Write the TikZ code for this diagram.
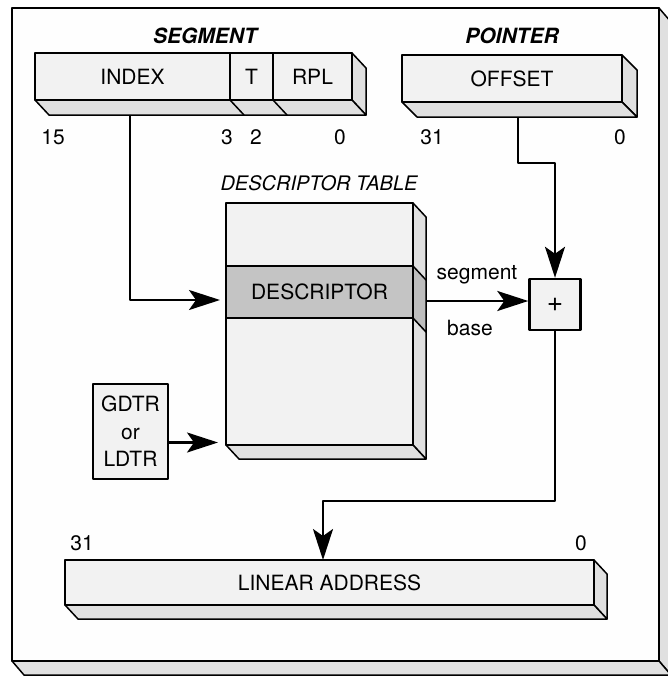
\documentclass[tikz,border=0pt]{standalone}
\usepackage{fontspec}
\setmainfont{TeX Gyre Heros}
\usetikzlibrary{calc,arrows.meta}
\definecolor{facecol}{gray}{0.95}
\definecolor{sidecol}{gray}{0.88}
\definecolor{bandcol}{gray}{0.77}
\definecolor{bandside}{gray}{0.74}
\definecolor{framecol}{gray}{0.995}
\newcommand\sidefaces[5]{%
  \filldraw[sideface] (#1) -- ++(#4,#5) -- ($(#2)+(#4,#5)$) -- (#2) -- cycle;
  \filldraw[sideface] (#3) -- ++(#4,#5) -- ($(#2)+(#4,#5)$) -- (#2) -- cycle;
}
\tikzset{
  txt/.style={font=\fontsize{21}{24}\selectfont, inner sep=0pt},
  title/.style={font=\fontsize{21}{24}\selectfont\bfseries\itshape, inner sep=0pt},
  front/.style={draw, line width=1.5pt, fill=facecol, inner sep=0pt, outer sep=0pt,
    anchor=north west, font=\fontsize{21}{24}\selectfont},
  sideface/.style={draw, line width=1.5pt, fill=sidecol, line join=round},
  edge/.style={line width=1.5pt},
  conn/.style={line width=2.3pt, -{Stealth[length=31pt,width=20pt,inset=7pt]}},
}
\begin{document}
\begin{tikzpicture}[x=1pt, y=-1pt, line join=round]
\useasboundingbox (0,0) rectangle (668,677);
\clip (0,0) rectangle (668,677);
% outer frame
\node[front, fill=framecol, minimum width=647pt, minimum height=653pt] (frame) at (12,8) {};
\sidefaces{frame.north east}{frame.south east}{frame.south west}{12}{14}

% segment selector
\node[title] (segtitle) at (205,36) {SEGMENT};
\node[front, minimum width=195pt, minimum height=47pt] (index) at (35,53) {INDEX};
\node[front, minimum width=43pt, minimum height=47pt] (tfld) at (230,53) {T};
\node[front, minimum width=79pt, minimum height=47pt] (rpl) at (273,53) {RPL};
\sidefaces{rpl.north east}{rpl.south east}{index.south west}{14}{15}
\draw[edge] (index.south east) -- ++(14,15);
\draw[edge] (tfld.south east) -- ++(14,15);
\node[txt] (b15) at (53,137) {15};
\node[txt] (b3) at (227,137) {3};
\node[txt] (b2) at (256,137) {2};
\node[txt] (b0a) at (340,137) {0};

% pointer
\node[title] (ptrtitle) at (512,36) {POINTER};
\node[front, minimum width=220pt, minimum height=47pt] (offset) at (402,55) {OFFSET};
\sidefaces{offset.north east}{offset.south east}{offset.south west}{15}{15}
\node[txt] (b31a) at (432,137) {31};
\node[txt] (b0b) at (620,137) {0};

% descriptor table
\node[txt, font=\fontsize{20}{24}\selectfont\itshape] (tbltitle) at (319,183) {DESCRIPTOR TABLE};
\node[front, minimum width=187pt, minimum height=242pt] (tbl) at (226,203) {};
\sidefaces{tbl.north east}{tbl.south east}{tbl.south west}{13}{14}
\node[front, fill=bandcol, minimum width=187pt, minimum height=52pt] (descriptor) at (226,266) {DESCRIPTOR};
\filldraw[sideface, fill=bandside] (descriptor.north east) -- ++(13,14) -- ($(descriptor.south east)+(13,14)$) -- (descriptor.south east) -- cycle;

% GDTR / LDTR
\node[front, minimum width=75pt, minimum height=95pt, align=center,
  font=\fontsize{21}{27.5}\selectfont] (gdtr) at (93,384) {GDTR\\or\\LDTR};

% adder
\node[draw, line width=2.4pt, fill=facecol, minimum size=51pt, inner sep=0pt,
  font=\fontsize{28}{30}\selectfont] (plus) at (555,304.5) {+};
\node[txt] (segl) at (477,275) {segment};
\node[txt] (basel) at (470,328) {base};

% linear address
\node[front, minimum width=529pt, minimum height=45pt] (linear) at (65,560) {LINEAR ADDRESS};
\sidefaces{linear.north east}{linear.south east}{linear.south west}{13}{14}
\node[txt] (b31b) at (82,543) {31};
\node[txt] (b0c) at (581,543) {0};

% connectors
\coordinate (idxout) at (130,115);
\draw[conn, shorten >=6pt] (idxout) |- ([yshift=-8pt]descriptor.west);
\coordinate (gout) at ([yshift=-11pt]gdtr.east);
\draw[conn, shorten >=8pt] (gout) -- (gout -| tbl.west);
\coordinate (offout) at (518,117);
\draw[conn] (offout) -- ++(0,46) -| (plus.north);
\coordinate (segout) at (426,301);
\draw[conn] (segout) -- (segout -| plus.west);
\draw[conn] (plus.south) -- ++(0,170) -| ([xshift=-6.5pt]linear.north);
\end{tikzpicture}
\end{document}
